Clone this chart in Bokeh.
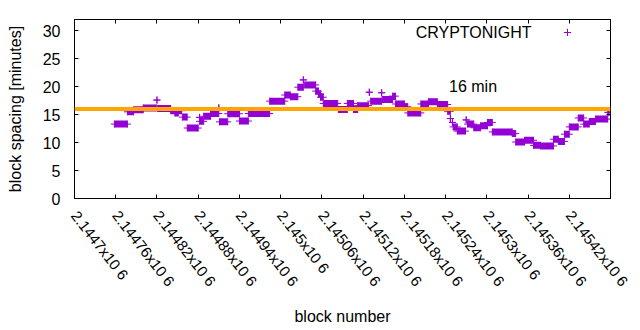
import math
from bokeh.plotting import figure
from bokeh.models import (Range1d, FixedTicker, LinearAxis, Span, Label, Legend,
                          LegendItem, ColumnDataSource)
from bokeh.embed import file_html
from bokeh.resources import INLINE

# ---------------- data (runs of consecutive blocks with equal spacing) ----------------
run_start = [2144758, 2144777, 2144786, 2144800, 2144820, 2144821, 2144840, 2144846,
             2144857, 2144864, 2144882, 2144882, 2144888, 2144898, 2144910, 2144911,
             2144923, 2144940, 2144953, 2144984, 2145006, 2145014, 2145025, 2145033,
             2145035, 2145051, 2145055, 2145058, 2145062, 2145084, 2145097, 2145106,
             2145112, 2145129, 2145131, 2145147, 2145148, 2145163, 2145167, 2145180,
             2145185, 2145204, 2145215, 2145228, 2145243, 2145247, 2145250, 2145251,
             2145257, 2145270, 2145272, 2145281, 2145291, 2145301, 2145308, 2145337,
             2145342, 2145355, 2145368, 2145378, 2145397, 2145404, 2145413, 2145420,
             2145433, 2145441, 2145449, 2145458, 2145476]
run_end = [2144777, 2144786, 2144800, 2144819, 2144820, 2144840, 2144856, 2144851,
           2144864, 2144880, 2144882, 2144888, 2144898, 2144910, 2144910, 2144923,
           2144940, 2144953, 2144984, 2145006, 2145014, 2145025, 2145033, 2145033,
           2145051, 2145055, 2145058, 2145062, 2145083, 2145097, 2145106, 2145112,
           2145128, 2145129, 2145147, 2145147, 2145163, 2145167, 2145180, 2145185,
           2145204, 2145215, 2145228, 2145243, 2145247, 2145247, 2145250, 2145257,
           2145269, 2145270, 2145281, 2145291, 2145301, 2145308, 2145337, 2145342,
           2145355, 2145368, 2145378, 2145397, 2145404, 2145413, 2145420, 2145433,
           2145441, 2145449, 2145458, 2145476, 2145478]
run_minutes = [13.3, 15.5, 15.85, 16.2, 17.6, 16.1, 15.7, 15.3,
               14.55, 12.6, 14.5, 13.8, 14.7, 15.2, 16.2, 13.7,
               15.15, 13.85, 15.2, 17.4, 18.5, 18.2, 19.9, 21.2,
               20.3, 19.2, 18.7, 18.1, 17.0, 15.9, 17.0, 15.9,
               16.6, 19.0, 17.4, 18.9, 17.7, 18.3, 16.9, 16.4,
               15.3, 16.9, 17.3, 16.8, 15.6, 14.3, 13.6, 12.8,
               12.05, 14.05, 13.3, 12.65, 13.0, 13.6, 11.9, 11.6,
               10.1, 10.4, 9.5, 9.4, 10.6, 10.2, 11.5, 12.8,
               14.4, 13.3, 13.75, 14.2, 15.4]

x_ticks = [2144700, 2144760, 2144820, 2144880, 2144940, 2145000, 2145060,
           2145120, 2145180, 2145240, 2145300, 2145360, 2145420, 2145480]
x_tick_labels = ["2.1447x10 6", "2.14476x10 6", "2.14482x10 6", "2.14488x10 6",
                 "2.14494x10 6", "2.145x10 6", "2.14506x10 6", "2.14512x10 6",
                 "2.14518x10 6", "2.14524x10 6", "2.1453x10 6", "2.14536x10 6",
                 "2.14542x10 6", "2.14548x10 6"]
y_ticks = [0, 5, 10, 15, 20, 25, 30]
x_limits = (2144700, 2145480)
y_limits = (0, 32)
target_minutes = 16
target_label = "16 min"
target_label_pos = (2145245, 20)
series_name = "CRYPTONIGHT"

# ---------------- styling ----------------
FONT = "Liberation Sans"
FS = "16px"
XFS = "15px"
XANGLE = -0.91
PURPLE = "#9400D3"
ORANGE = "#FFA500"
XLABEL_STANDOFF = 14

p = figure(width=640, height=330, output_backend="svg", toolbar_location=None,
           x_range=Range1d(*x_limits), y_range=Range1d(*y_limits),
           min_border_left=74, min_border_right=30, min_border_top=19,
           min_border_bottom=132)
p.grid.visible = False
p.outline_line_color = "black"
p.background_fill_color = "white"
p.border_fill_color = "white"

src = ColumnDataSource(dict(x0=run_start, x1=run_end, y=run_minutes))
p.segment(x0="x0", y0="y", x1="x1", y1="y", source=src, line_color=PURPLE,
          line_width=7, line_cap="butt")
r_start = p.scatter(x="x0", y="y", source=src, marker="cross", size=7,
                    line_color=PURPLE, line_width=1)
p.scatter(x="x1", y="y", source=src, marker="cross", size=7,
          line_color=PURPLE, line_width=1)

p.add_layout(Span(location=target_minutes, dimension="width", line_color=ORANGE,
                  line_width=4))
p.add_layout(Label(x=target_label_pos[0], y=target_label_pos[1], text=target_label,
                   text_font=FONT, text_font_size=FS, text_baseline="middle",
                   text_align="left", text_color="black"))

# legend: text on the left, sample on the right (gnuplot style)
p.add_layout(Label(x=457, y=166, x_units="screen", y_units="screen", text=series_name,
                   text_font=FONT, text_font_size=FS, text_baseline="middle",
                   text_align="right", text_color="black"))
leg = Legend(items=[LegendItem(label=" ", renderers=[r_start])], location=(484, 157),
             padding=0, margin=0, spacing=0, glyph_width=18, glyph_height=18,
             label_width=0, label_height=18, label_standoff=0,
             label_text_font_size="10px", border_line_alpha=0,
             background_fill_alpha=0)
p.add_layout(leg)


def style_axis(ax):
    ax.axis_line_color = "black"
    ax.major_tick_line_color = "black"
    ax.major_tick_in = 4
    ax.major_tick_out = 0
    ax.minor_tick_line_color = None
    ax.major_label_text_font = FONT
    ax.major_label_text_font_size = FS
    ax.major_label_text_color = "black"
    ax.axis_label_text_font = FONT
    ax.axis_label_text_font_size = FS
    ax.axis_label_text_font_style = "normal"
    ax.axis_label_text_color = "black"


xa = p.xaxis[0]
xa.ticker = FixedTicker(ticks=x_ticks)
# the last label runs off the canvas edge; it is drawn separately below so that
# Bokeh does not shift it back inside
overrides = dict(zip(x_ticks, x_tick_labels))
overrides[x_ticks[-1]] = ""
xa.major_label_overrides = overrides
xa.major_label_orientation = XANGLE
xa.major_label_standoff = XLABEL_STANDOFF
xa.axis_label = "block number"
xa.axis_label_standoff = 10
style_axis(xa)
xa.major_label_text_font_size = XFS

p.add_layout(Label(x=x_ticks[-1], y=-XLABEL_STANDOFF, y_units="screen",
                   text=x_tick_labels[-1], angle=XANGLE,
                   text_font=FONT, text_font_size=XFS, text_baseline="middle",
                   text_align="left", text_color="black"))

ya = p.yaxis[0]
ya.ticker = FixedTicker(ticks=y_ticks)
ya.major_label_standoff = 14
ya.axis_label = "block spacing [minutes]"
ya.axis_label_standoff = 16
style_axis(ya)

top = LinearAxis(ticker=FixedTicker(ticks=x_ticks),
                 major_label_overrides={t: "" for t in x_ticks})
style_axis(top)
top.major_label_text_font_size = "8px"
top.major_label_standoff = 0
p.add_layout(top, "above")
right = LinearAxis(ticker=FixedTicker(ticks=y_ticks),
                   major_label_overrides={t: "" for t in y_ticks})
style_axis(right)
right.major_label_standoff = 0
p.add_layout(right, "right")

open("out.html", "w").write(file_html(p, INLINE))
